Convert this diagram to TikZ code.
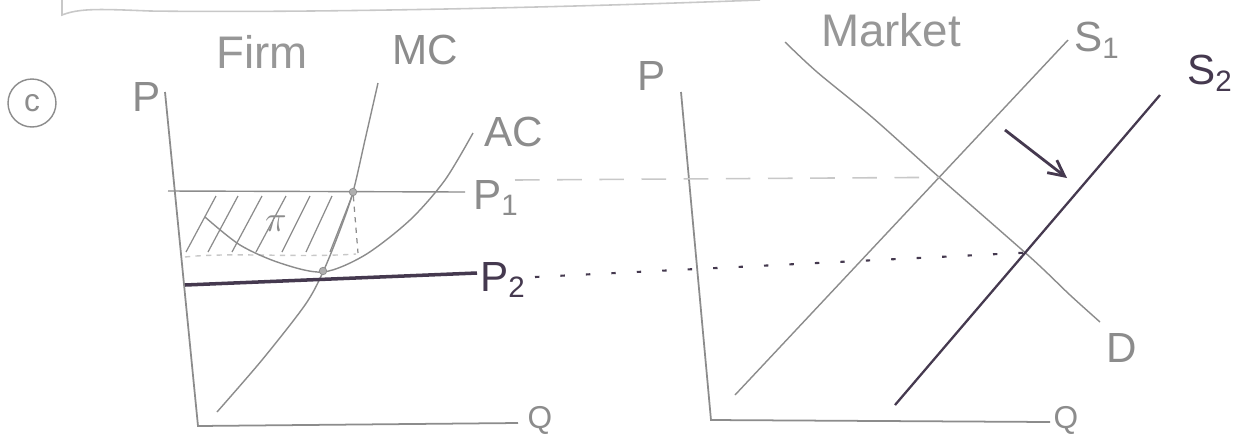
\documentclass[tikz,border=0pt]{standalone}
\usepackage{fontspec}
\setmainfont{Liberation Sans}
\usetikzlibrary{intersections,arrows.meta}
\definecolor{pencil}{HTML}{8C8C8C}
\definecolor{lead}{HTML}{45394F}
\definecolor{faint}{HTML}{C8C8C8}
\begin{document}
\begin{tikzpicture}[x=0.02cm,y=-0.02cm,
  thinline/.style={draw=pencil, line width=0.8pt},
  boldline/.style={draw=lead, line width=1.6pt},
  lbl/.style={text=pencil, inner sep=0pt, font=\fontsize{24}{26}\selectfont},
  title/.style={text=pencil!90, inner sep=0pt, font=\fontsize{26}{28}\selectfont},
  dlbl/.style={text=lead, inner sep=0pt, font=\fontsize{24}{26}\selectfont},
  dotmark/.style={circle, draw=pencil, fill=pencil!70, inner sep=0pt, minimum size=0.15cm}]
\fill[white] (0,0) rectangle (1242,434);
\useasboundingbox (0,0) rectangle (1242,434);

% top wavy line
\draw[faint, line width=0.9pt] (62,0) -- (62,15) .. controls (80,8) and (100,9) .. (150,11) .. controls (300,13) and (550,8) .. (760,0);

% part label
\node[circle, draw=pencil, line width=0.8pt, minimum size=0.96cm, inner sep=0pt, text=pencil, font=\fontsize{18}{20}\selectfont] (part) at (32,103) {c};

% ---------------- Firm ----------------
\node[title] (firm) at (262,52) {Firm};
\node[lbl] (fP) at (147,97) {P};
\coordinate (fTop) at (165,92);
\coordinate (fO) at (198,426);
\coordinate (fRight) at (518,423);
\draw[thinline, line width=1pt] (fTop) -- (fO) -- (fRight);
\node[lbl, font=\fontsize{18}{20}\selectfont] (fQ) at (540,420) {Q};

% hatched profit area
\foreach \x/\l in {186/30, 208/30, 232/30, 256/30, 282/28, 306/26, 330/22} {
  \draw[pencil, line width=0.7pt] (\x,252) -- ++(\l,-56);
}
\draw[faint, line width=0.8pt, dashed] (185,257) .. controls (230,252) and (300,258) .. (356,254);
\node[lbl, font=\fontsize{22}{24}\selectfont] (pi) at (276,224) {$\pi$};

% MC and AC curves
\draw[thinline] plot[smooth] coordinates {(217,412) (262,360) (305,305) (323,272) (340,230) (353,192) (365,140) (378,83)};
\node[lbl] (mc) at (425,50) {MC};
\draw[thinline] plot[smooth] coordinates {(205,217) (240,245) (280,263) (323,272) (365,255) (410,220) (445,180) (473,133)};
\node[lbl] (ac) at (514,132) {AC};

% P1 line
\coordinate (p1L) at (168,191);
\coordinate (p1R) at (465,192);
\draw[thinline] (p1L) -- (p1R);
\node[lbl] (p1) at (496,198) {P\textsubscript{1}};
\node[dotmark] (d1) at (353,192) {};
\coordinate (d1b) at (358,253);
\draw[pencil, line width=0.7pt, dashed] (d1) -- (d1b);

% P2 line
\coordinate (p2L) at (185,285);
\coordinate (p2R) at (477,273);
\draw[boldline, line width=2pt] (p2L) -- (p2R);
\node[dlbl] (p2) at (503,280) {P\textsubscript{2}};
\node[dotmark] (d2) at (323,271) {};

% ---------------- Market ----------------
\node[title] (market) at (891,30) {Market};
\node[lbl] (mP) at (652,76) {P};
\coordinate (mTop) at (681,92);
\coordinate (mO) at (711,420);
\coordinate (mRight) at (1050,422);
\draw[thinline, line width=1pt] (mTop) -- (mO) -- (mRight);
\node[lbl, font=\fontsize{18}{20}\selectfont] (mQ) at (1066,420) {Q};

\draw[thinline, name path=dem] plot[smooth] coordinates {(785,42) (817,72) (873,118) (940,178) (1030,257) (1070,295) (1100,322)};
\node[lbl] (dl) at (1122,348) {D};

\coordinate (s1a) at (735,395);
\coordinate (s1b) at (1068,40);
\draw[thinline, name path=sup1] (s1a) -- (s1b);
\node[lbl] (s1) at (1097,40) {S\textsubscript{1}};

\coordinate (s2a) at (895,405);
\coordinate (s2b) at (1160,95);
\draw[boldline, line width=1.3pt, name path=sup2] (s2a) -- (s2b);
\node[dlbl] (s2) at (1210,73) {S\textsubscript{2}};

\path[name intersections={of=dem and sup1, by=E1}];
\path[name intersections={of=dem and sup2, by=E2}];

% shift arrow
\coordinate (arA) at (1005,130);
\coordinate (arB) at (1067,178);
\draw[boldline, -{Straight Barb[length=9pt,width=9pt]}] (arA) -- (arB);

% price links between panels
\coordinate (l1) at (515,180);
\draw[faint, line width=0.9pt, dash pattern=on 14pt off 10pt] (l1) -- (E1);
\coordinate (l2) at (535,277);
\draw[lead, line width=1.2pt, dash pattern=on 2.5pt off 12pt] (l2) -- (E2);
\end{tikzpicture}
\end{document}
